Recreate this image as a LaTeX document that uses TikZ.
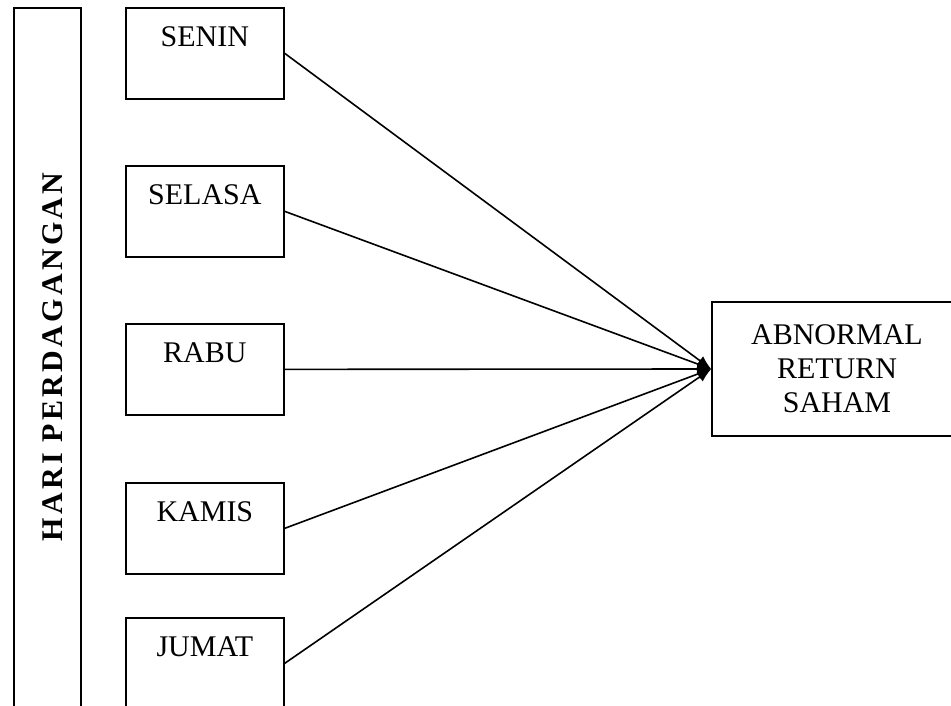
\documentclass[tikz,border=0pt]{standalone}
\usepackage{fontspec}
\setmainfont{Liberation Serif}
\usetikzlibrary{arrows.meta}
\begin{document}
\begin{tikzpicture}[x=1pt,y=-1pt,
  every node/.style={font=\fontsize{30}{34}\selectfont},
  daybox/.style={draw, line width=1.7pt, rectangle, anchor=north west, inner sep=0pt,
    minimum width=158, text height=39pt, text depth=52pt, text width=158, align=center},
  link/.style={line width=1.6pt, -{Latex[length=14pt,width=11pt]}}
]
\clip (0,0) rectangle (951,706);
\fill[white] (0,0) rectangle (951,706);
% left bar
\node[draw, line width=1.7pt, anchor=north west, minimum width=67, minimum height=760, inner sep=0pt] (bar) at (13,7) {};
\node[rotate=90, anchor=base, font=\fontsize{30}{34}\selectfont\bfseries\addfontfeature{LetterSpace=11}] (title) at (62,357) {HARI PERDAGANGAN};
% day boxes
\node[daybox] (senin) at (125,7) {SENIN};
\node[daybox] (selasa) at (125,165) {SELASA};
\node[daybox] (rabu) at (125,323) {RABU};
\node[daybox] (kamis) at (125,482) {KAMIS};
\node[daybox] (jumat) at (125,617) {JUMAT};
% target
\node[draw, line width=1.7pt, minimum width=250, minimum height=134, inner sep=0pt, align=center] (ar) at (837,369) {ABNORMAL\\RETURN\\SAHAM};
\coordinate (tip) at (ar.west);
\draw[link] (senin.east) -- (tip);
\draw[link] (selasa.east) -- (tip);
\draw[link] (rabu.east) -- (tip);
\draw[link] (kamis.east) -- (tip);
\draw[link] (jumat.east) -- (tip);
\end{tikzpicture}
\end{document}
